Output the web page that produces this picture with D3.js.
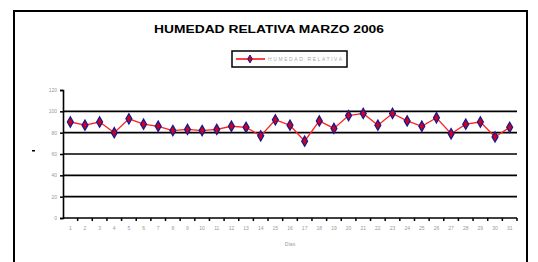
<!DOCTYPE html>
<html>
<head>
<meta charset="utf-8">
<script src="https://cdn.jsdelivr.net/npm/d3@7"></script>
<style>
  html, body { margin: 0; padding: 0; background: #fff; }
  svg { display: block; font-family: "Liberation Sans", Arial, sans-serif; }
</style>
</head>
<body>
<div id="chart"></div>
<script>
// days of March 2006
var days = d3.range(1, 32).map(String);
// relative humidity (%)
var humidity = [90, 87, 90, 80, 93, 88, 86, 82, 83, 82, 83, 86, 85, 77, 92, 87, 72, 91, 84, 96,
                98, 87, 98, 91, 86, 94, 79, 88, 90, 76, 85];
var yTicks = [0, 20, 40, 60, 80, 100, 120];
var gridValues = [20, 40, 60, 80, 100];

var width = 538, height = 262;

var svg = d3.select("#chart")
  .append("svg")
  .attr("width", width)
  .attr("height", height);

// outer chart frame
svg.append("rect")
  .attr("x", 14).attr("y", 11)
  .attr("width", 513).attr("height", 270)
  .attr("fill", "#fff")
  .attr("stroke", "#000")
  .attr("stroke-width", 2);

// title
svg.append("text")
  .attr("x", 269).attr("y", 33)
  .attr("text-anchor", "middle")
  .attr("font-size", 11)
  .attr("font-weight", "bold")
  .attr("textLength", 230)
  .attr("lengthAdjust", "spacingAndGlyphs")
  .text("HUMEDAD RELATIVA MARZO 2006");

// legend
var legend = svg.append("g");
legend.append("rect")
  .attr("x", 232).attr("y", 51)
  .attr("width", 115).attr("height", 16)
  .attr("fill", "#fff")
  .attr("stroke", "#000")
  .attr("stroke-width", 1.5);
legend.append("line")
  .attr("x1", 236).attr("x2", 265)
  .attr("y1", 59).attr("y2", 59)
  .attr("stroke", "#ff0000")
  .attr("stroke-width", 1.5);
legend.append("path")
  .attr("transform", "translate(250,59)")
  .attr("d", d3.symbol(d3.symbolDiamond, 18)())
  .attr("fill", "#d00020")
  .attr("stroke", "#1a1a8c")
  .attr("stroke-width", 1);
legend.append("text")
  .attr("x", 268).attr("y", 61)
  .attr("font-size", 5)
  .attr("fill", "#aaa")
  .attr("textLength", 74)
  .attr("lengthAdjust", "spacing")
  .text("HUMEDAD RELATIVA");

// scales
var x = d3.scaleBand().domain(days).range([63, 517]);
var y = d3.scaleLinear().domain([0, 120]).range([218, 90]);

// gridlines
svg.append("g")
  .selectAll("line")
  .data(gridValues)
  .join("line")
  .attr("x1", 63).attr("x2", 517)
  .attr("y1", function (d) { return y(d); })
  .attr("y2", function (d) { return y(d); })
  .attr("stroke", "#000")
  .attr("stroke-width", 1.6);

// y axis
var yAxis = svg.append("g")
  .attr("transform", "translate(63,0)")
  .call(d3.axisLeft(y).tickValues(yTicks).tickSize(3).tickPadding(3));
yAxis.select(".domain").attr("stroke-width", 1.6);
yAxis.selectAll(".tick line").attr("stroke-width", 1.5);
yAxis.selectAll("text")
  .attr("font-size", 5)
  .attr("fill", "#999");

// x axis, ticks between categories like the original
var xAxis = svg.append("g")
  .attr("transform", "translate(0,218)");
xAxis.append("line")
  .attr("x1", 63).attr("x2", 517)
  .attr("stroke", "#000")
  .attr("stroke-width", 1.6);
xAxis.selectAll(".tk")
  .data(days)
  .join("line")
  .attr("class", "tk")
  .attr("x1", function (d) { return x(d) + x.bandwidth(); })
  .attr("x2", function (d) { return x(d) + x.bandwidth(); })
  .attr("y1", 0).attr("y2", 3)
  .attr("stroke", "#000")
  .attr("stroke-width", 1.5);
xAxis.selectAll("text")
  .data(days)
  .join("text")
  .attr("x", function (d) { return x(d) + x.bandwidth() / 2; })
  .attr("y", 12)
  .attr("text-anchor", "middle")
  .attr("font-size", 5)
  .attr("fill", "#999")
  .text(function (d) { return d; });

// axis titles
svg.append("text")
  .attr("x", 290).attr("y", 246)
  .attr("text-anchor", "middle")
  .attr("font-size", 5)
  .attr("fill", "#999")
  .text("Días");
svg.append("rect")
  .attr("x", 32).attr("y", 150)
  .attr("width", 3).attr("height", 1.5)
  .attr("fill", "#000");

// series
var line = d3.line()
  .x(function (d, i) { return x(days[i]) + x.bandwidth() / 2; })
  .y(function (d) { return y(d); });

svg.append("path")
  .datum(humidity)
  .attr("d", line)
  .attr("fill", "none")
  .attr("stroke", "#ff2020")
  .attr("stroke-width", 1.3);

svg.append("g")
  .selectAll("path")
  .data(humidity)
  .join("path")
  .attr("transform", function (d, i) {
    return "translate(" + (x(days[i]) + x.bandwidth() / 2) + "," + y(d) + ")";
  })
  .attr("d", d3.symbol(d3.symbolDiamond, 30)())
  .attr("fill", "#d00020")
  .attr("stroke", "#1a1a8c")
  .attr("stroke-width", 1.3);
</script>
</body>
</html>
